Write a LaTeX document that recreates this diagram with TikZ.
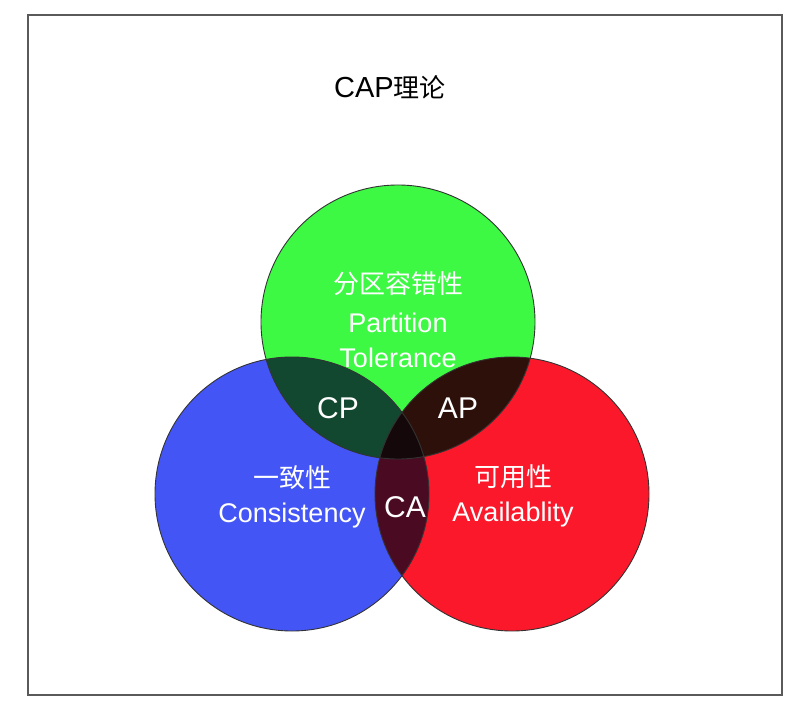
\documentclass[tikz,border=0pt]{standalone}
\usepackage{fontspec}
\setmainfont{Liberation Sans}
\newfontfamily\cjk{Noto Sans CJK SC}
\definecolor{cgreen}{RGB}{61,249,68}
\definecolor{cblue}{RGB}{68,85,245}
\definecolor{cred}{RGB}{250,24,42}
\definecolor{colcp}{RGB}{18,72,48}
\definecolor{colap}{RGB}{46,16,10}
\definecolor{colca}{RGB}{74,10,34}
\definecolor{colcen}{RGB}{20,8,10}
\definecolor{framecol}{RGB}{90,90,90}
\newcommand{\zh}[1]{{\cjk\fontsize{26}{30}\selectfont #1}}
\tikzset{
  ring/.style={draw=black!80, line width=0.9pt},
  lbl/.style={text=white, font=\fontsize{27}{32}\selectfont, anchor=base, inner sep=0pt},
  biglbl/.style={text=white, font=\fontsize{30}{35}\selectfont, anchor=base, inner sep=0pt},
  titlelbl/.style={text=black, font=\fontsize{29}{34}\selectfont, anchor=base, inner sep=0pt}
}
\begin{document}
\begin{tikzpicture}[x=1pt,y=-1pt]
\useasboundingbox (0,0) rectangle (806,714);
\fill[white] (0,0) rectangle (806,714);
\draw[framecol, line width=1.8pt] (28,15) rectangle (782,695);
\coordinate (G) at (398,322);
\coordinate (B) at (292,494);
\coordinate (R) at (512,494);
\def\rr{137}
% base fills
\fill[cgreen] (G) circle (\rr);
\fill[cblue] (B) circle (\rr);
\fill[cred] (R) circle (\rr);
% pairwise overlaps
\begin{scope}
  \clip (G) circle (\rr);
  \fill[colcp] (B) circle (\rr);
  \fill[colap] (R) circle (\rr);
\end{scope}
\begin{scope}
  \clip (B) circle (\rr);
  \fill[colca] (R) circle (\rr);
\end{scope}
\begin{scope}
  \clip (G) circle (\rr);
  \clip (B) circle (\rr);
  \fill[colcen] (R) circle (\rr);
\end{scope}
% outlines
\draw[ring] (G) circle (\rr);
\draw[ring] (B) circle (\rr);
\draw[ring] (R) circle (\rr);
% texts
\node[titlelbl] (title) at (390,98) {CAP\zh{理论}};
\node[lbl] (g1) at (398,294) {\zh{分区容错性}};
\node[lbl] (g2) at (398,332) {Partition};
\node[lbl] (g3) at (398,367) {Tolerance};
\node[lbl] (b1) at (292,487) {\zh{一致性}};
\node[lbl] (b2) at (292,522) {Consistency};
\node[lbl] (r1) at (513,486) {\zh{可用性}};
\node[lbl] (r2) at (513,521) {Availablity};
\node[biglbl] (cp) at (338,418) {CP};
\node[biglbl] (apn) at (458,418) {AP};
\node[biglbl] (ca) at (405,517) {CA};
\end{tikzpicture}
\end{document}
